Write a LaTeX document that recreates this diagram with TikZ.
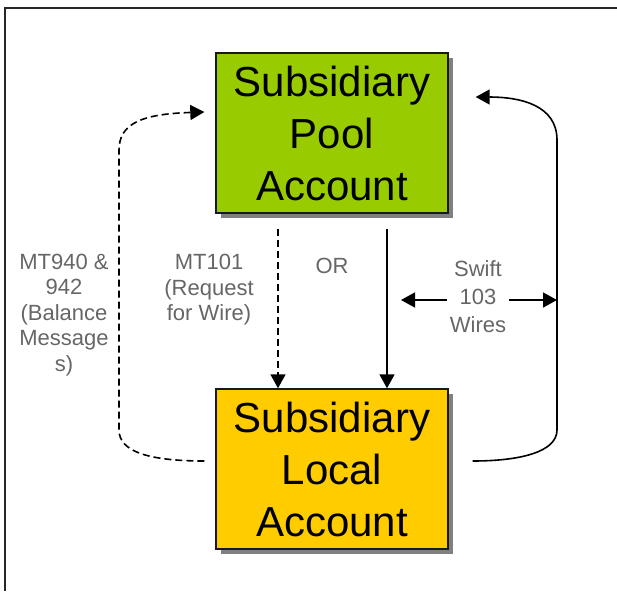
\documentclass[tikz,border=0pt]{standalone}
\usepackage{fontspec}
\setmainfont{Liberation Sans}
\usetikzlibrary{arrows.meta,positioning,shadows}
\definecolor{poolgreen}{HTML}{99CC00}
\definecolor{localorange}{HTML}{FFCC00}
\definecolor{msggray}{HTML}{666666}
\begin{document}
\begin{tikzpicture}[
    x=1pt, y=-1pt,
    >={Triangle[length=14pt,width=15pt]}, % filled arrow heads
    line width=1.6pt,
    account/.style={draw=black!90, line width=1.4pt, minimum width=232pt, minimum height=160pt,
        align=center, inner sep=0pt, font=\fontsize{42}{52}\selectfont,
        drop shadow={shadow xshift=5pt, shadow yshift=-5pt, fill=black!50, opacity=1}},
    msg/.style={text=msggray, align=center, inner sep=2pt, font=\fontsize{22}{25.5}\selectfont},
    msgline/.style={->, dash pattern=on 7pt off 4pt}
]
    \useasboundingbox (0,0) rectangle (617,591);

    % --- frame ---
    \draw[black!85] (617,8) -- (5,8) -- (5,591);

    % --- accounts ---
    \node[account, fill=poolgreen] (pool) at (332,133) {Subsidiary\\Pool\\Account};
    \node[account, fill=localorange] (local) at (332,469) {Subsidiary\\Local\\Account};

    % --- labels ---
    \node[msg] (balance) at (64,315) {MT940 \&\\942\\(Balance\\Message\\s)};
    \node[msg] (request) at (209,290) {MT101\\(Request\\for Wire)};
    \node[msg] (or) at (332,266) {OR};
    \node[msg, font=\fontsize{22}{28}\selectfont] (swift) at (478,297) {Swift\\103\\Wires};

    % --- messages ---
    % balance message: local back up to pool
    \draw[msgline] ([xshift=-11pt,yshift=8pt]local.west)
        .. controls (150,461) and (119,452) .. (119,430) -- (119,150)
        .. controls (119,122) and (145,114) .. ([xshift=-11pt,yshift=21pt]pool.west);
    % MT101 request
    \draw[msgline] ([xshift=-54pt,yshift=-15pt]pool.south) -- ([xshift=-54pt]local.north);
    % OR direct
    \draw[->] ([xshift=55pt,yshift=-15pt]pool.south) -- ([xshift=55pt]local.north);

    % wires loop on the right
    \draw[->] ([xshift=24pt,yshift=8pt]local.east)
        .. controls (520,461) and (557,452) .. (557,430) -- (557,140)
        .. controls (557,105) and (520,97) .. ([xshift=27pt,yshift=36pt]pool.east);

    \coordinate (wireL) at (401,300);
    \coordinate (wireR) at (557,300);
    \draw[->] ([yshift=-3pt]swift.west) -- (wireL);
    \draw[->] ([yshift=-3pt]swift.east) -- (wireR);

\end{tikzpicture}
\end{document}
